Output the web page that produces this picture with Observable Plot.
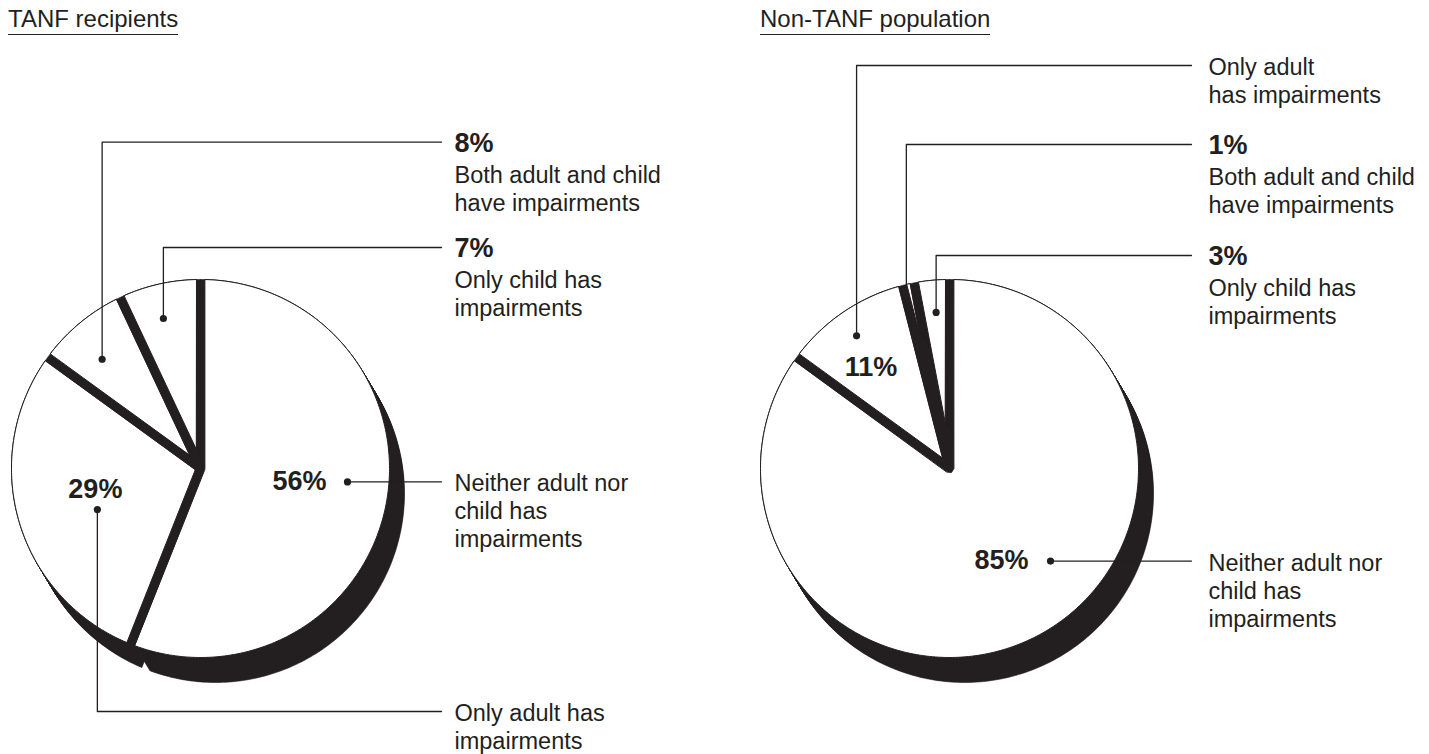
<!DOCTYPE html>
<html>
<head>
<meta charset="utf-8">
<script src="https://cdn.jsdelivr.net/npm/d3@7"></script>
<script src="https://cdn.jsdelivr.net/npm/@observablehq/plot@0.6"></script>
<style>
  html, body { margin: 0; padding: 0; background: #fff; }
  #wrap { position: relative; width: 1429px; height: 754px; overflow: hidden;
          font-family: "Liberation Sans", Arial, Helvetica, sans-serif; color: #231f20; }
  .panel-title { position: absolute; top: 7px; font-size: 24px; line-height: 24px;
                 padding-bottom: 3px; border-bottom: 1.3px solid #231f20; white-space: nowrap; }
  #chart { position: absolute; left: 0; top: 44px; }
</style>
</head>
<body>
<div id="wrap"><div id="chart"></div></div>
<script>
// ---- data -------------------------------------------------------------
const panelTitles = ["TANF recipients", "Non-TANF population"];
const categories = [
  "Neither adult nor child has impairments",
  "Only adult has impairments",
  "Both adult and child have impairments",
  "Only child has impairments"
];
// shares in percent, clockwise from 12 o'clock, same order as categories
const tanfShares = [56, 29, 8, 7];
const nonTanfShares = [85, 11, 1, 3];
// wrapped category labels as printed beside each pie
const tanfLabelLines = [
  ["Neither adult nor", "child has", "impairments"],
  ["Only adult has", "impairments"],
  ["Both adult and child", "have impairments"],
  ["Only child has", "impairments"]
];
const nonTanfLabelLines = [
  ["Neither adult nor", "child has", "impairments"],
  ["Only adult", "has impairments"],
  ["Both adult and child", "have impairments"],
  ["Only child has", "impairments"]
];

// ---- layout -----------------------------------------------------------
const W = 1429, H = 754, TOP = 44;
const R = 189;              // pie radius
const HALF_GAP = 4.4;       // half width of the gap between slices
const DEPTH = [15, 25];     // extrusion of the slices (dx, dy)
const DEPTH_STEPS = 28;
const LINE_STEP = 28;       // leading of the category labels
const INK = "#231f20";
const FONT = "Liberation Sans, Arial, Helvetica, sans-serif";

const panels = [
  {
    title: panelTitles[0], titleX: 8,
    shares: tanfShares, lines: tanfLabelLines,
    cx: 200, cy: 468, lineEnd: 441, textX: 454,
    labels: [
      {nudge: -5.6, r: 147.6, leader: "straight", inner: {dx: -21, dy: 8.5, anchor: "end"}},
      {nudge: -5.5, r: 111, leader: "elbow", y: 711, inner: {dx: -2, dy: -12, anchor: "middle"}},
      {nudge: -2.4, r: 147, leader: "elbow", y: 141.7},
      {nudge: -1.3, r: 154.5, leader: "elbow", y: 247}
    ]
  },
  {
    title: panelTitles[1], titleX: 760,
    shares: nonTanfShares, lines: nonTanfLabelLines,
    cx: 949, cy: 468, lineEnd: 1191, textX: 1208,
    labels: [
      {nudge: -20.5, r: 137, leader: "straight", inner: {dx: -22, dy: 7.5, anchor: "end"}},
      {nudge: -0.8, r: 162, leader: "elbow", y: 65, inner: {dx: 14.5, dy: 40, anchor: "middle"}},
      {nudge: -0.6, r: R, leader: "elbow", y: 144, dot: false},
      {nudge: 0.5, r: 156.6, leader: "elbow", y: 255}
    ]
  }
];

// panel titles (HTML, underlined)
const wrap = document.getElementById("wrap");
for (const p of panels) {
  const t = document.createElement("div");
  t.className = "panel-title";
  t.style.left = p.titleX + "px";
  t.textContent = p.title;
  wrap.appendChild(t);
}

// ---- geometry ---------------------------------------------------------
const unit = a => [Math.sin(a), -Math.cos(a)];   // d3.pie angle -> screen direction
const pie = d3.pie().sort(null).value(d => d);

// top face of a slice, with its radial edges pulled in by HALF_GAP
function topFace(cx, cy, a0, a1) {
  const half = (a1 - a0) / 2, mid = (a0 + a1) / 2;
  const pts = [];
  if (half < Math.PI / 2) {
    const d = HALF_GAP / Math.sin(half);
    const [ux, uy] = unit(mid);
    pts.push([cx + d * ux, cy + d * uy]);
  } else {
    for (const a of [a1 - Math.PI / 2, mid, a0 + Math.PI / 2]) {
      const [ux, uy] = unit(a);
      pts.push([cx + HALF_GAP * ux, cy + HALF_GAP * uy]);
    }
  }
  const delta = Math.asin(HALF_GAP / R);
  const n = Math.max(3, Math.ceil((a1 - a0) * 180 / Math.PI));
  for (let i = 0; i <= n; i++) {
    const a = a0 + delta + (a1 - a0 - 2 * delta) * i / n;
    const [ux, uy] = unit(a);
    pts.push([cx + R * ux, cy + R * uy]);
  }
  return pts;
}

const sideRows = [], faceRows = [], leaderRows = [], dotRows = [];
const pctColumnRows = [], pctEndRows = [], pctMiddleRows = [], textRows = [];

panels.forEach((p, pi) => {
  const arcs = pie(p.shares);

  // dark body behind the gaps
  for (let i = 0; i <= 180; i++) {
    const [ux, uy] = unit(2 * Math.PI * i / 180);
    sideRows.push({id: `body-${pi}`, x: p.cx + R * ux, y: p.cy + R * uy});
  }

  arcs.forEach((arc, si) => {
    const face = topFace(p.cx, p.cy, arc.startAngle, arc.endAngle);
    // extruded sides: the face swept along the depth vector
    for (let s = 0; s <= DEPTH_STEPS; s++) {
      const t = s / DEPTH_STEPS;
      const id = `side-${pi}-${si}-${s}`;
      for (const [x, y] of face) sideRows.push({id, x: x + t * DEPTH[0], y: y + t * DEPTH[1]});
    }
    for (const [x, y] of face) faceRows.push({id: `face-${pi}-${si}`, x, y});

    // annotation anchored near the slice's middle angle
    const lab = p.labels[si];
    const a = (arc.startAngle + arc.endAngle) / 2 + lab.nudge * Math.PI / 180;
    const [ux, uy] = unit(a);
    const ax = p.cx + lab.r * ux, ay = p.cy + lab.r * uy;
    const id = `lead-${pi}-${si}`;
    let L;
    if (lab.leader === "straight") {
      L = ay;
      leaderRows.push({id, x: ax, y: ay}, {id, x: p.lineEnd, y: ay});
    } else {
      L = lab.y;
      leaderRows.push({id, x: ax, y: ay}, {id, x: ax, y: L}, {id, x: p.lineEnd, y: L});
    }
    if (lab.dot !== false) dotRows.push({x: ax, y: ay});

    const pct = `${p.shares[si]}%`;
    let y0;
    if (lab.inner) {
      const row = {x: ax + lab.inner.dx, y: ay + lab.inner.dy, text: pct};
      (lab.inner.anchor === "end" ? pctEndRows : pctMiddleRows).push(row);
      y0 = L + 9.5;
    } else {
      pctColumnRows.push({x: p.textX, y: L + 9.5, text: pct});
      y0 = L + 9.5 + 31;
    }
    p.lines[si].forEach((text, k) => textRows.push({x: p.textX, y: y0 + k * LINE_STEP, text, category: categories[si]}));
  });
});

const pctStyle = {x: "x", y: "y", text: "text", fill: INK, fontSize: 27, fontWeight: "bold",
                  fontFamily: FONT, lineAnchor: "bottom"};

const chart = Plot.plot({
  width: W,
  height: H - TOP,
  margin: 0,
  style: {background: "white", fontFamily: FONT, overflow: "visible"},
  x: {domain: [0, W], range: [0, W], axis: null},
  y: {domain: [TOP, H], range: [0, H - TOP], axis: null},
  marks: [
    Plot.line(sideRows, {x: "x", y: "y", z: "id", curve: "linear-closed", fill: INK, stroke: INK, strokeWidth: 0.6}),
    Plot.line(faceRows, {x: "x", y: "y", z: "id", curve: "linear-closed", fill: "white", stroke: INK, strokeWidth: 1}),
    Plot.line(leaderRows, {x: "x", y: "y", z: "id", stroke: INK, strokeWidth: 1.3}),
    Plot.dot(dotRows, {x: "x", y: "y", r: 3.6, fill: INK, stroke: null}),
    Plot.text(pctColumnRows, {...pctStyle, textAnchor: "start"}),
    Plot.text(pctEndRows, {...pctStyle, textAnchor: "end"}),
    Plot.text(pctMiddleRows, {...pctStyle, textAnchor: "middle"}),
    Plot.text(textRows, {x: "x", y: "y", text: "text", fill: INK, fontSize: 23.5,
                         fontFamily: FONT, textAnchor: "start", lineAnchor: "bottom"})
  ]
});
document.getElementById("chart").appendChild(chart);
</script>
</body>
</html>
